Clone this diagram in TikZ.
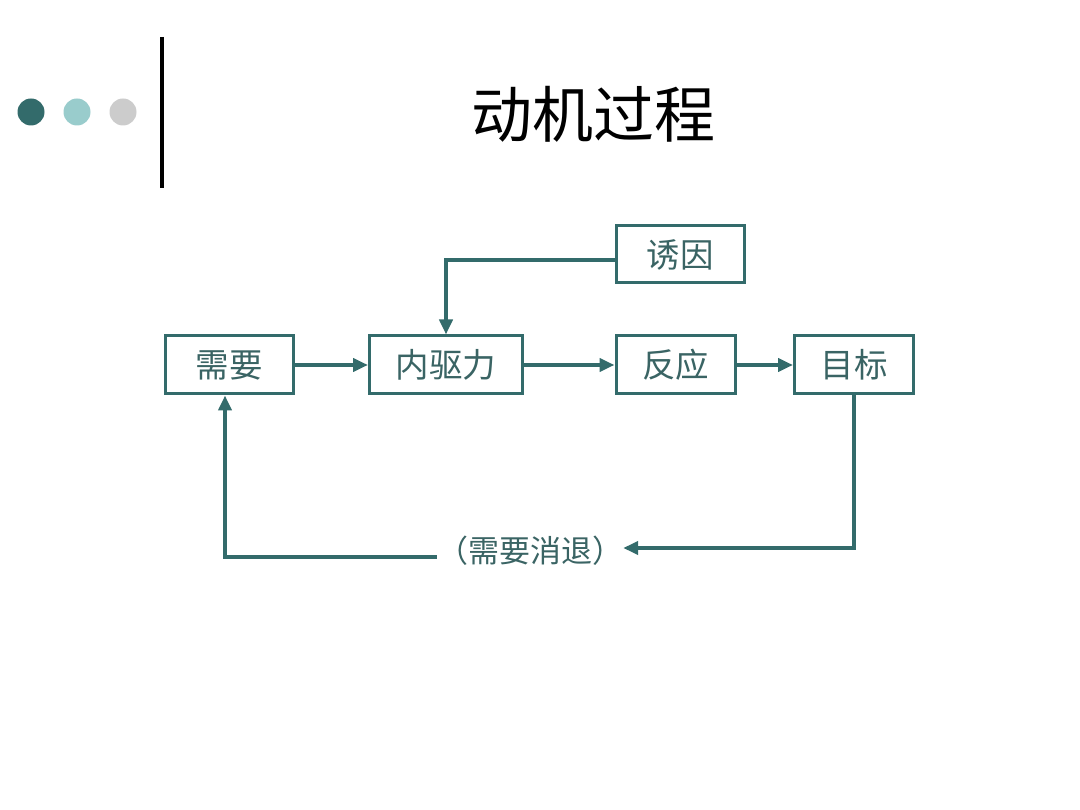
\documentclass[tikz,border=0pt]{standalone}
\usepackage{fontspec}
\newfontfamily\cjk{Noto Sans CJK SC}
\usetikzlibrary{arrows.meta}
\definecolor{teal1}{HTML}{336B6B}
\definecolor{tealtext}{HTML}{3A6464}
\definecolor{lightteal}{HTML}{99CCCC}
\definecolor{lgray}{HTML}{CCCCCC}
\tikzset{
  box/.style={draw=teal1, line width=3pt, minimum height=58pt, inner sep=0pt,
    font=\cjk\fontsize{33.5}{33.5}\selectfont, text=tealtext},
  arr/.style={draw=teal1, line width=4pt, line join=miter, -{Triangle[length=15pt,width=13pt]}},
}
\begin{document}
\begin{tikzpicture}[x=1pt,y=-1pt]
\useasboundingbox[fill=white] (0,0) rectangle (1080,810);
% decoration
\fill[teal1] (31,112) circle (13.5);
\fill[lightteal] (77,112) circle (13.5);
\fill[lgray] (123,112) circle (13.5);
\draw[line width=4pt] (162,37) -- (162,188);
\node[font=\cjk\fontsize{61}{61}\selectfont] (title) at (593,114) {动机过程};
% boxes
\node[box, minimum width=128pt] (need) at (229,365) {需要};
\node[box, minimum width=153pt] (drive) at (446,365) {内驱力};
\node[box, minimum width=119pt] (resp) at (675.5,365) {反应};
\node[box, minimum width=119pt] (goal) at (854,365) {目标};
\node[box, minimum width=128pt, minimum height=57pt] (inc) at (680,254.5) {诱因};
\node[font=\cjk\fontsize{31}{31}\selectfont, text=tealtext, inner sep=0pt] (red) at (530,551) {（需要消退）};
% connectors
\draw[arr] (need) -- (drive);
\draw[arr] (drive) -- (resp);
\draw[arr] (resp) -- (goal);
\coordinate (c1) at (446,260);
\draw[arr] (inc.west |- c1) -- (c1) -- (drive.north);
\coordinate (c2) at (854,548);
\draw[arr] (goal.south) -- (c2) -- (red.east |- c2);
\coordinate (c3) at (225,557);
\draw[arr] (red.west |- c3) -- (c3) -- (c3 |- need.south);
\end{tikzpicture}
\end{document}
